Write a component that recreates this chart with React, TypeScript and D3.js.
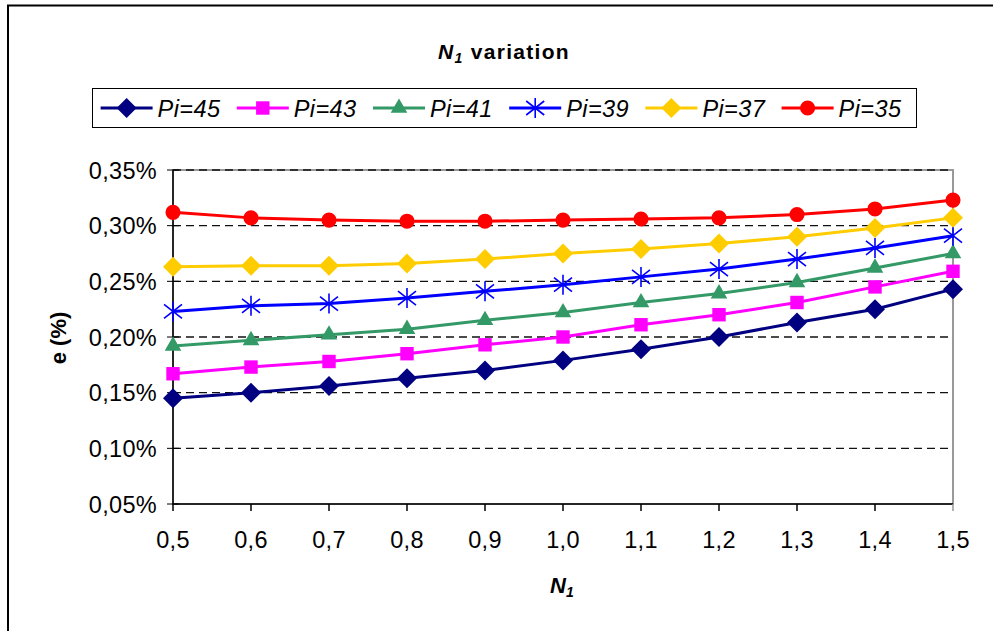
import React from "react";
import * as d3 from "d3";

// N1 values along the x axis
const n1Values = [0.5, 0.6, 0.7, 0.8, 0.9, 1.0, 1.1, 1.2, 1.3, 1.4, 1.5];

// e (%) for each Pi setting
const pi45 = [0.145, 0.150, 0.156, 0.163, 0.170, 0.179, 0.189, 0.200, 0.213, 0.225, 0.243];
const pi43 = [0.167, 0.173, 0.178, 0.185, 0.193, 0.200, 0.211, 0.220, 0.231, 0.245, 0.259];
const pi41 = [0.192, 0.197, 0.202, 0.207, 0.215, 0.222, 0.231, 0.239, 0.249, 0.262, 0.275];
const pi39 = [0.223, 0.228, 0.230, 0.235, 0.241, 0.247, 0.254, 0.261, 0.270, 0.280, 0.291];
const pi37 = [0.263, 0.264, 0.264, 0.266, 0.270, 0.275, 0.279, 0.284, 0.290, 0.298, 0.307];
const pi35 = [0.312, 0.307, 0.305, 0.304, 0.304, 0.305, 0.306, 0.307, 0.310, 0.315, 0.323];

const seriesNames = ["Pi=45", "Pi=43", "Pi=41", "Pi=39", "Pi=37", "Pi=35"];
const seriesValues = [pi45, pi43, pi41, pi39, pi37, pi35];
const seriesColors = ["#000080", "#FF00FF", "#339966", "#0000FF", "#FFCC00", "#FF0000"];
const seriesMarkers = ["diamond", "square", "triangle", "star", "diamond", "circle"];

const yTicks = [0.05, 0.10, 0.15, 0.20, 0.25, 0.30, 0.35];

const W = 993;
const H = 631;
const plot = { left: 173, right: 953, top: 170, bottom: 504 };

const x = d3.scaleLinear().domain([0.5, 1.5]).range([plot.left, plot.right]);
const y = d3.scaleLinear().domain([0.05, 0.35]).range([plot.bottom, plot.top]);

const fmtPct = (v: number) => v.toFixed(2).replace(".", ",") + "%";
const fmtN = (v: number) => v.toFixed(1).replace(".", ",");

const FONT = "Liberation Sans, Arial, sans-serif";

function Marker({ kind, color, cx, cy }: { kind: string; color: string; cx: number; cy: number }) {
  if (kind === "star") {
    const p = d3.path();
    p.moveTo(cx, cy - 10);
    p.lineTo(cx, cy + 10);
    p.moveTo(cx - 9, cy - 7);
    p.lineTo(cx + 9, cy + 7);
    p.moveTo(cx - 9, cy + 7);
    p.lineTo(cx + 9, cy - 7);
    return <path d={p.toString()} stroke={color} strokeWidth={1.6} fill="none" />;
  }
  let d = "";
  let transform = `translate(${cx},${cy})`;
  if (kind === "diamond") {
    d = d3.symbol().type(d3.symbolSquare).size(200)()!;
    transform += " rotate(45)";
  } else if (kind === "square") {
    d = d3.symbol().type(d3.symbolSquare).size(180)()!;
  } else if (kind === "triangle") {
    d = d3.symbol().type(d3.symbolTriangle).size(120)()!;
  } else {
    d = d3.symbol().type(d3.symbolCircle).size(180)()!;
  }
  return <path d={d} transform={transform} fill={color} />;
}

export default function App() {
  const line = d3
    .line<number>()
    .x((_, i) => x(n1Values[i]))
    .y((v) => y(v));

  const legendX0 = 100.6;
  const legendStep = 136.2;
  const legendY = 108;

  return (
    <svg
      width={W}
      height={H}
      style={{ position: "absolute", left: 0, top: 0, background: "#fff" }}
      fontFamily={FONT}
    >
      <rect x={0} y={0} width={W} height={H} fill="#fff" />
      {/* outer chart frame */}
      <rect x={8} y={5.5} width={1000} height={700} fill="none" stroke="#000" strokeWidth={2} />

      {/* title */}
      <text x={504} y={59} textAnchor="middle" fontSize={21} fontWeight="bold" letterSpacing={1.3}>
        <tspan fontStyle="italic">N</tspan>
        <tspan fontStyle="italic" fontSize={14} dy={4}>1</tspan>
        <tspan dy={-4}> variation</tspan>
      </text>

      {/* legend */}
      <rect x={92.5} y={88.5} width={824} height={39} fill="#fff" stroke="#000" strokeWidth={1} />
      {seriesNames.map((name, i) => {
        const lx = legendX0 + i * legendStep;
        return (
          <g key={name}>
            <line x1={lx} x2={lx + 52} y1={legendY} y2={legendY} stroke={seriesColors[i]} strokeWidth={3} />
            <Marker kind={seriesMarkers[i]} color={seriesColors[i]} cx={lx + 26} cy={legendY} />
            <text x={lx + 57} y={legendY + 8.5} fontSize={23.5} fontStyle="italic" letterSpacing={0.4}>
              {name}
            </text>
          </g>
        );
      })}

      {/* plot area frame */}
      <rect
        x={plot.left}
        y={plot.top}
        width={plot.right - plot.left}
        height={plot.bottom - plot.top}
        fill="#fff"
        stroke="#999"
        strokeWidth={2}
      />

      {/* horizontal gridlines */}
      {yTicks.slice(1).map((t) => (
        <line
          key={t}
          x1={plot.left}
          x2={plot.right}
          y1={y(t)}
          y2={y(t)}
          stroke="#111"
          strokeWidth={1.3}
          strokeDasharray="8,5"
        />
      ))}

      {/* y axis */}
      <line x1={plot.left} x2={plot.left} y1={plot.top} y2={plot.bottom} stroke="#000" strokeWidth={1.5} />
      {yTicks.map((t) => (
        <g key={t}>
          <line x1={plot.left - 6} x2={plot.left + 6} y1={y(t)} y2={y(t)} stroke="#000" strokeWidth={1} />
          <text x={157} y={y(t) + 8.5} textAnchor="end" fontSize={23.5} letterSpacing={0.3}>
            {fmtPct(t)}
          </text>
        </g>
      ))}

      {/* x axis */}
      <line x1={plot.left} x2={plot.right} y1={plot.bottom} y2={plot.bottom} stroke="#000" strokeWidth={1.5} />
      {n1Values.map((v) => (
        <g key={v}>
          <line
            x1={x(v)}
            x2={x(v)}
            y1={plot.bottom}
            y2={plot.bottom + 7}
            stroke={v === 1.5 ? "#999" : "#000"}
            strokeWidth={1.5}
          />
          <text x={x(v)} y={548} textAnchor="middle" fontSize={23.5} letterSpacing={0.3}>
            {fmtN(v)}
          </text>
        </g>
      ))}

      {/* axis titles */}
      <text x={550} y={593} fontSize={22} fontWeight="bold" fontStyle="italic">
        <tspan>N</tspan>
        <tspan fontSize={14} dy={4}>1</tspan>
      </text>
      <text
        transform="translate(66,338) rotate(-90)"
        textAnchor="middle"
        fontSize={22}
        fontWeight="bold"
      >
        e (%)
      </text>

      {/* series */}
      {seriesValues.map((vals, i) => (
        <g key={seriesNames[i]}>
          <path d={line(vals)!} fill="none" stroke={seriesColors[i]} strokeWidth={3} />
          {vals.map((v, j) => (
            <Marker key={j} kind={seriesMarkers[i]} color={seriesColors[i]} cx={x(n1Values[j])} cy={y(v)} />
          ))}
        </g>
      ))}
    </svg>
  );
}
